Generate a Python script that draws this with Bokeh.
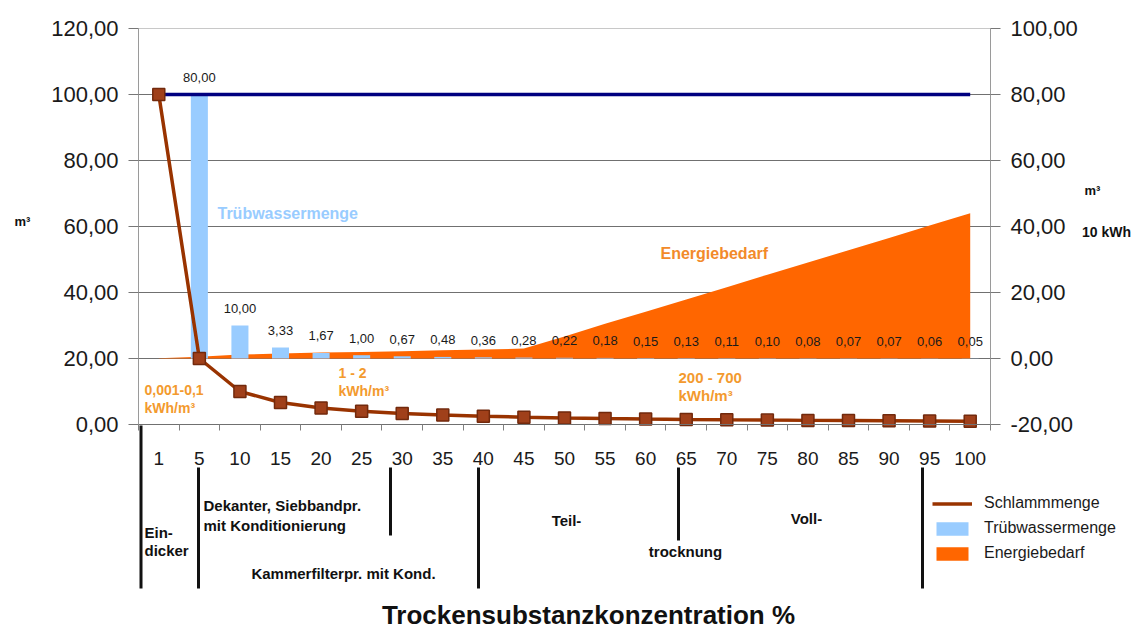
from bokeh.plotting import figure
from bokeh.models import (Range1d, LinearAxis, FixedTicker, CustomJSTickFormatter, Label,
                          Legend, LegendItem)
from bokeh.core.properties import value
from bokeh.embed import file_html
from bokeh.resources import INLINE

# ---------------- data ----------------
categories = ["1", "5", "10", "15", "20", "25", "30", "35", "40", "45", "50",
              "55", "60", "65", "70", "75", "80", "85", "90", "95", "100"]
schlammmenge = [100.0, 20.0, 10.0, 6.67, 5.0, 4.0, 3.33, 2.86, 2.5, 2.22, 2.0,
                1.82, 1.67, 1.54, 1.43, 1.33, 1.25, 1.18, 1.11, 1.05, 1.0]
ausgang = [100, 100, 100, 100, 100, 100, 100, 100, 100, 100, 100,
           100, 100, 100, 100, 100, 100, 100, 100, 100, 100]
bar_categories = categories[1:]
truebwassermenge = [80.0, 10.0, 3.33, 1.67, 1.00, 0.67, 0.48, 0.36, 0.28, 0.22,
                    0.18, 0.15, 0.13, 0.11, 0.10, 0.08, 0.07, 0.07, 0.06, 0.05]
energiebedarf = [0.1, 0.5, 1.2, 1.5, 1.8, 2.0, 2.2, 2.5, 2.7, 3.0, 6.7,
                 10.5, 14.2, 17.9, 21.6, 25.4, 29.1, 32.8, 36.5, 40.3, 44.0]
left_ticks = [0, 20, 40, 60, 80, 100, 120]
right_ticks = [-20, 0, 20, 40, 60, 80, 100]
grid_levels = [20, 40, 60, 80, 100]

FONT = "Liberation Sans"
N = len(categories)
xs = [i + 0.5 for i in range(N)]
bar_xs = [categories.index(c) + 0.5 for c in bar_categories]
bar_text = [f"{v:.2f}".replace(".", ",") for v in truebwassermenge]

W, H = 1133, 631
# plot-area geometry in picture pixels; the frame covers the whole canvas and
# the axes are pinned at the data edges, so free annotations can sit anywhere
FL, FR, FT, FB = 138, 990, 28, 424
def ax(px):
    return (px - FL) * N / (FR - FL)
def ay(py):
    return (FB - py) * 120 / (FB - FT)

p = figure(width=W, height=H,
           x_range=Range1d(ax(0), ax(W)), y_range=Range1d(ay(H), ay(0)),
           output_backend="svg", toolbar_location=None,
           min_border_left=0, min_border_right=0, min_border_top=0, min_border_bottom=0)
p.extra_y_ranges = {"right": Range1d(ay(H) - 20, ay(0) - 20)}
p.title.visible = False
p.outline_line_color = None
p.xgrid.visible = False
p.ygrid.visible = False

fmt = CustomJSTickFormatter(code="return tick.toFixed(2).replace('.', ',');")

def style_y(a):
    a.axis_line_color = "#9a9a9a"
    a.major_tick_line_color = "#777777"
    a.major_tick_out = 10
    a.major_tick_in = 0
    a.minor_tick_line_color = None
    a.major_label_standoff = 10
    a.major_label_text_font = FONT
    a.major_label_text_font_size = "22px"
    a.major_label_text_color = "#1a1a1a"

la = p.yaxis[0]
la.ticker = FixedTicker(ticks=left_ticks)
la.formatter = fmt
la.fixed_location = 0
la.bounds = (0, 120)
style_y(la)

ra = LinearAxis(y_range_name="right", ticker=FixedTicker(ticks=right_ticks), formatter=fmt)
ra.fixed_location = N
ra.bounds = (-20, 100)
style_y(ra)
p.add_layout(ra, "right")

xa = p.xaxis[0]
xa.ticker = FixedTicker(ticks=xs, minor_ticks=list(range(N + 1)))
xa.formatter = CustomJSTickFormatter(args=dict(labels=categories),
                                     code="return labels[Math.floor(tick)] || '';")
xa.fixed_location = 0
xa.bounds = (0, N)
xa.axis_line_color = "#707070"
xa.major_tick_line_color = None
xa.minor_tick_line_color = "#808080"
xa.minor_tick_out = 6
xa.minor_tick_in = 0
xa.major_label_standoff = 21
xa.major_label_text_font = FONT
xa.major_label_text_font_size = "19px"
xa.major_label_text_color = "#1a1a1a"

# horizontal grid lines across the plot area only
p.segment(x0=[0] * len(grid_levels), x1=[N] * len(grid_levels), y0=grid_levels, y1=grid_levels,
          line_color="#707070", line_width=1)
p.segment(x0=[0], x1=[N], y0=[120], y1=[120], line_color="#c8c8c8", line_width=1)

# data glyphs
area = p.varea(x=xs, y1=[0] * N, y2=energiebedarf, y_range_name="right", fill_color="#FF6600")
bars = p.vbar(x=bar_xs, top=truebwassermenge, bottom=0, width=0.42, y_range_name="right",
              fill_color="#99CCFF", line_color=None)
p.line(x=xs, y=ausgang, line_color="#000080", line_width=3.5)
sl = p.line(x=xs, y=schlammmenge, line_color="#993300", line_width=3.5)
p.scatter(x=xs, y=schlammmenge, marker="square", size=12, fill_color="#A0401A",
          line_color="#72290c", line_width=1.5)
p.text(x=bar_xs, y=truebwassermenge, text=bar_text, y_range_name="right",
       y_offset=-17, text_align="center", text_baseline="middle",
       text_font=value(FONT), text_font_size="13px", text_color="#1a1a1a")

def lab(px, py, txt, size, color="#111111", align="left", bold=True):
    p.add_layout(Label(x=ax(px), y=ay(py), text=txt, text_align=align, text_baseline="middle",
                       text_font=FONT, text_font_size=size, text_color=color,
                       text_font_style="bold" if bold else "normal"))

# in-plot annotations
lab(217, 213, "Trübwassermenge", "16px", "#99CCFF")
lab(660, 253, "Energiebedarf", "16px", "#F28A2A")
ORG = "#F39A2E"
lab(144, 389, "0,001-0,1", "14px", ORG)
lab(144, 407, "kWh/m³", "14px", ORG)
lab(338, 372, "1 - 2", "14px", ORG)
lab(338, 390, "kWh/m³", "14px", ORG)
lab(678, 377, "200 - 700", "15px", ORG)
lab(678, 395, "kWh/m³", "15px", ORG)

# unit labels
lab(22, 221, "m³", "13px", "#111111", "center")
lab(1092, 190, "m³", "13px", "#111111", "center")
lab(1106, 231, "10 kWh", "14px", "#111111", "center")

# process separators below the axis
sep_x = [140.5, 198, 390, 478, 678, 922]
sep_top = [425, 467, 467, 467, 467, 467]
sep_bot = [588, 588, 535, 588, 540, 588]
p.segment(x0=[ax(v) for v in sep_x], x1=[ax(v) for v in sep_x],
          y0=[ay(v) for v in sep_top], y1=[ay(v) for v in sep_bot],
          line_color="#111111", line_width=3)

lab(144, 532, "Ein-", "15px")
lab(144, 550, "dicker", "15px")
lab(203, 505, "Dekanter, Siebbandpr.", "15px")
lab(203, 525, "mit Konditionierung", "15px")
lab(343, 573, "Kammerfilterpr. mit Kond.", "15px", align="center")
lab(566, 520, "Teil-", "15px", align="center")
lab(806, 518, "Voll-", "15px", align="center")
lab(685, 551, "trocknung", "15px", align="center")

# axis title
lab(588, 614, "Trockensubstanzkonzentration %", "26px", "#111111", "center")

# legend
legend = Legend(items=[LegendItem(label="Schlammmenge", renderers=[sl]),
                       LegendItem(label="Trübwassermenge", renderers=[bars]),
                       LegendItem(label="Energiebedarf", renderers=[area])],
                location=(932, H - 562), orientation="vertical",
                background_fill_alpha=0, border_line_color=None,
                padding=0, margin=0, spacing=7, glyph_width=40, glyph_height=17,
                label_height=17, label_standoff=12,
                label_text_font=FONT, label_text_font_size="16px",
                label_text_color="#1a1a1a")
p.add_layout(legend)

open("out.html", "w").write(file_html(p, INLINE))
